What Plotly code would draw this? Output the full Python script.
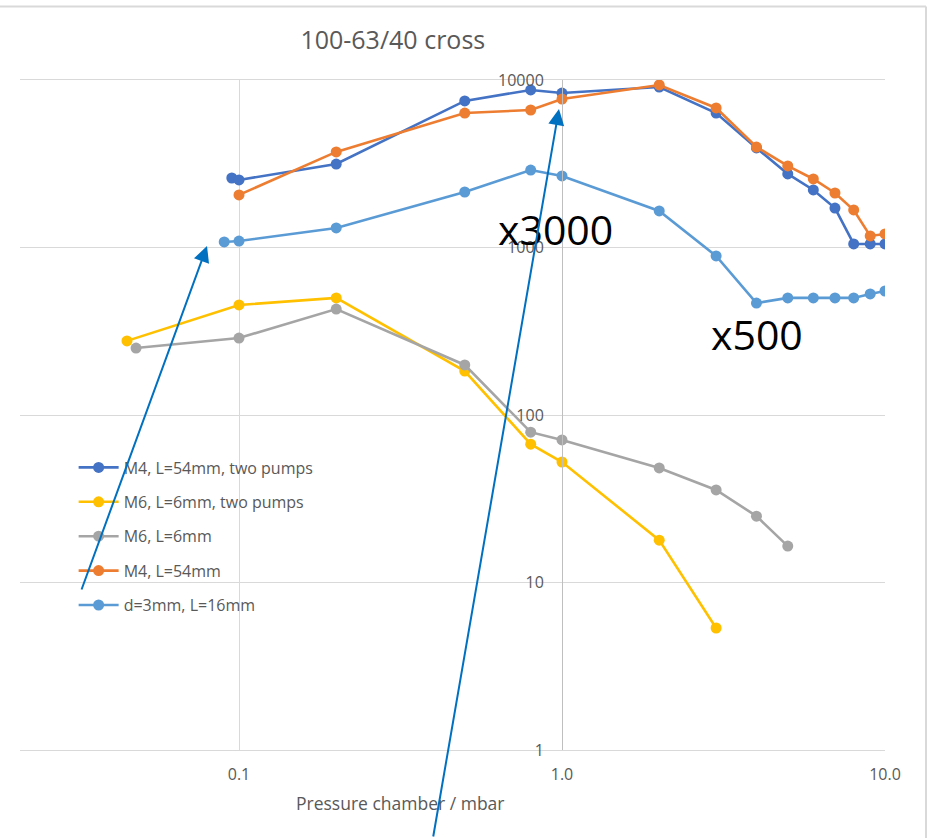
import plotly.graph_objects as go

# Pressure chamber / mbar for each measurement series
p_m4_two = [0.095, 0.1, 0.2, 0.5, 0.8, 1.0, 2.0, 3.0, 4.0, 5.0, 6.0, 7.0, 8.0, 9.0, 10.0]
v_m4_two = [2600, 2530, 3150, 7500, 8720, 8360, 9080, 6350, 3930, 2750, 2205, 1720, 1050, 1050, 1050]

p_m6_two = [0.045, 0.1, 0.2, 0.5, 0.8, 1.0, 2.0, 3.0]
v_m6_two = [277, 454, 500, 183, 67, 52.4, 17.9, 5.35]

p_m6 = [0.048, 0.1, 0.2, 0.5, 0.8, 1.0, 2.0, 3.0, 4.0, 5.0]
v_m6 = [251, 288, 429, 199, 79, 71, 48.3, 35.7, 24.9, 16.5]

p_m4 = [0.1, 0.2, 0.5, 0.8, 1.0, 2.0, 3.0, 4.0, 5.0, 6.0, 7.0, 8.0, 9.0, 10.0]
v_m4 = [2060, 3720, 6350, 6620, 7700, 9340, 6810, 3980, 3070, 2565, 2115, 1675, 1172, 1205]

p_d3 = [0.09, 0.1, 0.2, 0.5, 0.8, 1.0, 2.0, 3.0, 4.0, 5.0, 6.0, 7.0, 8.0, 9.0, 10.0]
v_d3 = [1079, 1093, 1308, 2145, 2900, 2673, 1652, 890, 466, 500, 500, 500, 500, 528, 550]

series = [
    ("M4, L=54mm, two pumps", p_m4_two, v_m4_two, "#4472C4"),
    ("M6, L=6mm, two pumps", p_m6_two, v_m6_two, "#FFC000"),
    ("M6, L=6mm", p_m6, v_m6, "#A5A5A5"),
    ("M4, L=54mm", p_m4, v_m4, "#ED7D31"),
    ("d=3mm, L=16mm", p_d3, v_d3, "#5B9BD5"),
]

x_ticks = [0.1, 1, 10]
x_tick_text = ["0.1", "1.0", "10.0"]
y_ticks = [1, 10, 100, 1000, 10000]
y_tick_text = ["1", "10", "100", "1000", "10000"]

FONT = "Open Sans"
GREY_TXT = "#595959"
GRID = "#d9d9d9"
ARROW = "#0070C0"

fig = go.Figure()
for name, px, py, col in series:
    fig.add_trace(go.Scatter(
        x=px, y=py, name=name, mode="lines+markers",
        line=dict(color=col, width=2.6),
        marker=dict(color=col, size=11),
        legendgroup=name,
    ))

fig.update_layout(
    width=929, height=838,
    margin=dict(l=20, r=44, t=80, b=88),
    paper_bgcolor="white", plot_bgcolor="white",
    font=dict(family=FONT, color=GREY_TXT, size=16),
    title=dict(text="100-63/40 cross", x=0.431, xref="paper", xanchor="center",
               y=1 - 40 / 838, yanchor="middle",
               font=dict(family=FONT, size=25, color=GREY_TXT)),
    showlegend=True,
    legend=dict(x=0.062, y=0.447, xanchor="left", yanchor="top",
                bgcolor="rgba(0,0,0,0)", font=dict(size=16, color=GREY_TXT),
                itemwidth=40, tracegroupgap=10.6),
    xaxis=dict(type="log", range=[-1.678, 1], tickvals=x_ticks, ticktext=x_tick_text,
               showgrid=True, gridcolor=GRID, gridwidth=1, zeroline=False,
               showline=True, linecolor=GRID, linewidth=1, mirror=True,
               ticks="", ticklabelstandoff=10,
               tickfont=dict(size=16, color=GREY_TXT)),
    yaxis=dict(type="log", range=[0, 4], tickvals=y_ticks, ticktext=y_tick_text,
               anchor="free", position=542 / 865,
               showgrid=True, gridcolor=GRID, gridwidth=1, zeroline=False,
               showline=True, linecolor="#bfbfbf", linewidth=1,
               ticks="", ticklabelstandoff=15,
               tickfont=dict(size=16, color=GREY_TXT)),
)

# axis title placed under the axis
fig.add_annotation(text="Pressure chamber / mbar", xref="paper", yref="paper",
                   x=0.4393, y=-0.0791, xanchor="center", yanchor="middle",
                   showarrow=False, font=dict(family=FONT, size=17.5, color=GREY_TXT))

# scaling labels
fig.add_annotation(text="x3000", xref="paper", yref="paper", x=0.6185, y=0.7776,
                   xanchor="center", yanchor="middle",
                   showarrow=False, font=dict(family=FONT, size=41, color="black"))
fig.add_annotation(text="x500", xref="paper", yref="paper", x=0.852, y=0.6209,
                   xanchor="center", yanchor="middle",
                   showarrow=False, font=dict(family=FONT, size=41, color="black"))

# pointer arrows
for hx, hy, ax, ay in [(0.2162, 0.7522, -126, 345), (0.6231, 0.9567, -126, 741)]:
    fig.add_annotation(x=hx, y=hy, xref="paper", yref="paper", text="",
                       showarrow=True, ax=ax, ay=ay, axref="pixel", ayref="pixel",
                       arrowhead=2, arrowsize=1.6, arrowwidth=2, arrowcolor=ARROW)

# chart frame (top and right edges)
fx = (926 - 20) / 865
fy = (750 - 6.5) / 670
fig.add_shape(type="line", xref="paper", yref="paper", x0=-0.1, x1=fx, y0=fy, y1=fy,
              line=dict(color=GRID, width=2))
fig.add_shape(type="line", xref="paper", yref="paper", x0=fx, x1=fx, y0=-0.2, y1=fy,
              line=dict(color=GRID, width=2))

fig.write_html("out.html")
